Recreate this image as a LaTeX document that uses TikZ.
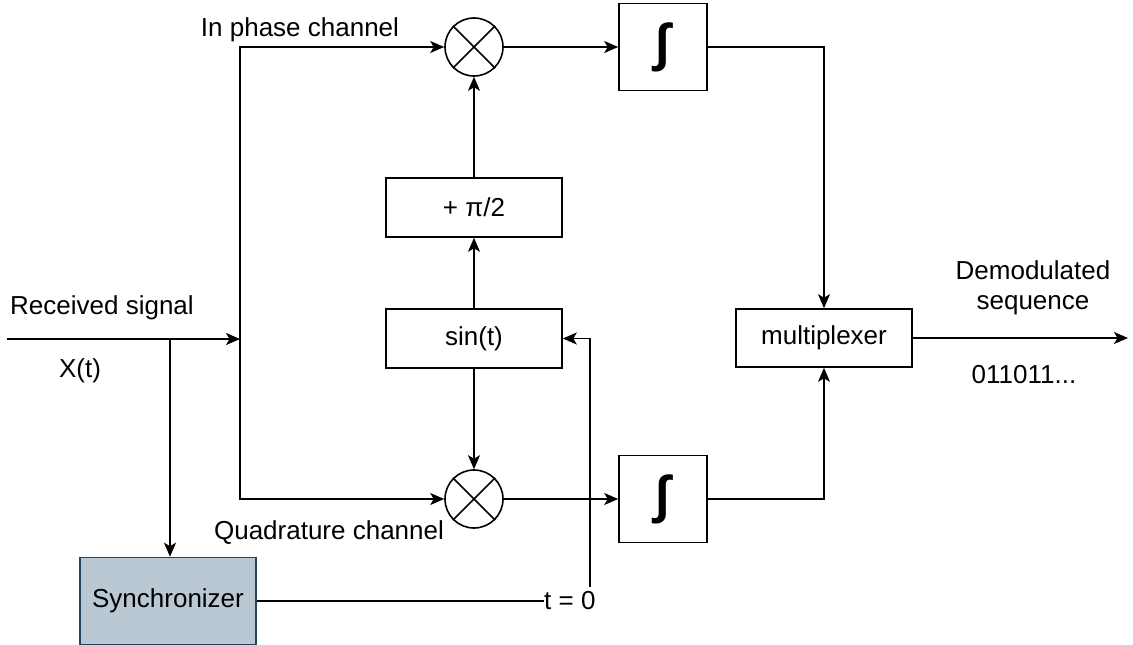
\documentclass[tikz,border=0pt]{standalone}
\usepackage{fontspec}
\setmainfont{Liberation Sans}
\usetikzlibrary{arrows.meta}
\definecolor{syncfill}{HTML}{BAC8D3}
\definecolor{syncdraw}{HTML}{23445D}
\tikzset{
  blk/.style={draw=black, line width=1.6pt, minimum width=176pt, minimum height=59pt, inner sep=0pt},
  intbox/.style={draw=black, line width=1.6pt, minimum width=88pt, minimum height=87pt, inner sep=0pt, font=\fontsize{52}{54}\selectfont\bfseries},
  mixer/.style={draw=black, line width=1.6pt, circle, minimum size=58pt, inner sep=0pt},
  syncbox/.style={draw=syncdraw, fill=syncfill, line width=1.6pt, minimum width=176pt, minimum height=87pt, inner sep=0pt},
  lbl/.style={inner sep=0pt},
  wire/.style={line width=1.6pt, draw=black},
  arr/.style={wire, -{Stealth[length=14pt, width=12pt, inset=3.5pt]}},
}
\begin{document}
\begin{tikzpicture}[x=1pt, y=-1pt, font=\fontsize{26}{30}\selectfont]
\useasboundingbox (0,0) rectangle (1133,645);
% blocks
\node[mixer] (mulI) at (474,47) {};
\node[mixer] (mulQ) at (474,499) {};
\foreach \m in {mulI,mulQ} {
  \draw[wire] (\m.45) -- (\m.225);
  \draw[wire] (\m.135) -- (\m.315);
}
\node[intbox] (intI) at (663,47) {∫};
\node[intbox] (intQ) at (663,499) {∫};
\node[blk] (shift) at (474,207.5) {+ π/2};
\node[blk] (sin) at (474,338.5) {sin(t)};
\node[blk, minimum height=58pt] (mux) at (824,338) {multiplexer};
\node[syncbox] (sync) at (168,601) {Synchronizer};
% labels
\node[lbl] (lrec) at (102,308) {Received signal};
\node[lbl] (lx) at (80,371) {X(t)};
\node[lbl] (lin) at (300,30) {In phase channel};
\node[lbl] (lq) at (329,533) {Quadrature channel};
\node[lbl, anchor=west] (t0) at (544,601) {t = 0};
\node[lbl, align=center] (ldem) at (1033,288) {Demodulated\\sequence};
\node[lbl] (lseq) at (1024,375) {011011...};
% coordinates
\coordinate (in) at (7,339);
\coordinate (split) at (240,339);
\coordinate (branch) at (170,339);
\coordinate (tp) at (590,587);
\coordinate (out) at (1128,338);
% connectors
\draw[arr] (in) -- (split);
\draw[arr] (split) |- (mulI.west);
\draw[arr] (split) |- (mulQ.west);
\draw[arr] (branch) -- (branch |- sync.north);
\draw[arr] (mulI.east) -- (intI.west);
\draw[arr] (mulQ.east) -- (intQ.west);
\draw[arr] (sin.north) -- (shift.south);
\draw[arr] (shift.north) -- (mulI.south);
\draw[arr] (sin.south) -- (mulQ.north);
\draw[arr] (intI.east) -| (mux.north);
\draw[arr] (intQ.east) -| (mux.south);
\draw[arr] (mux.east) -- (out);
\draw[wire] (sync.east) -- (t0.west);
\draw[arr] (tp) |- (sin.east);
\end{tikzpicture}
\end{document}
